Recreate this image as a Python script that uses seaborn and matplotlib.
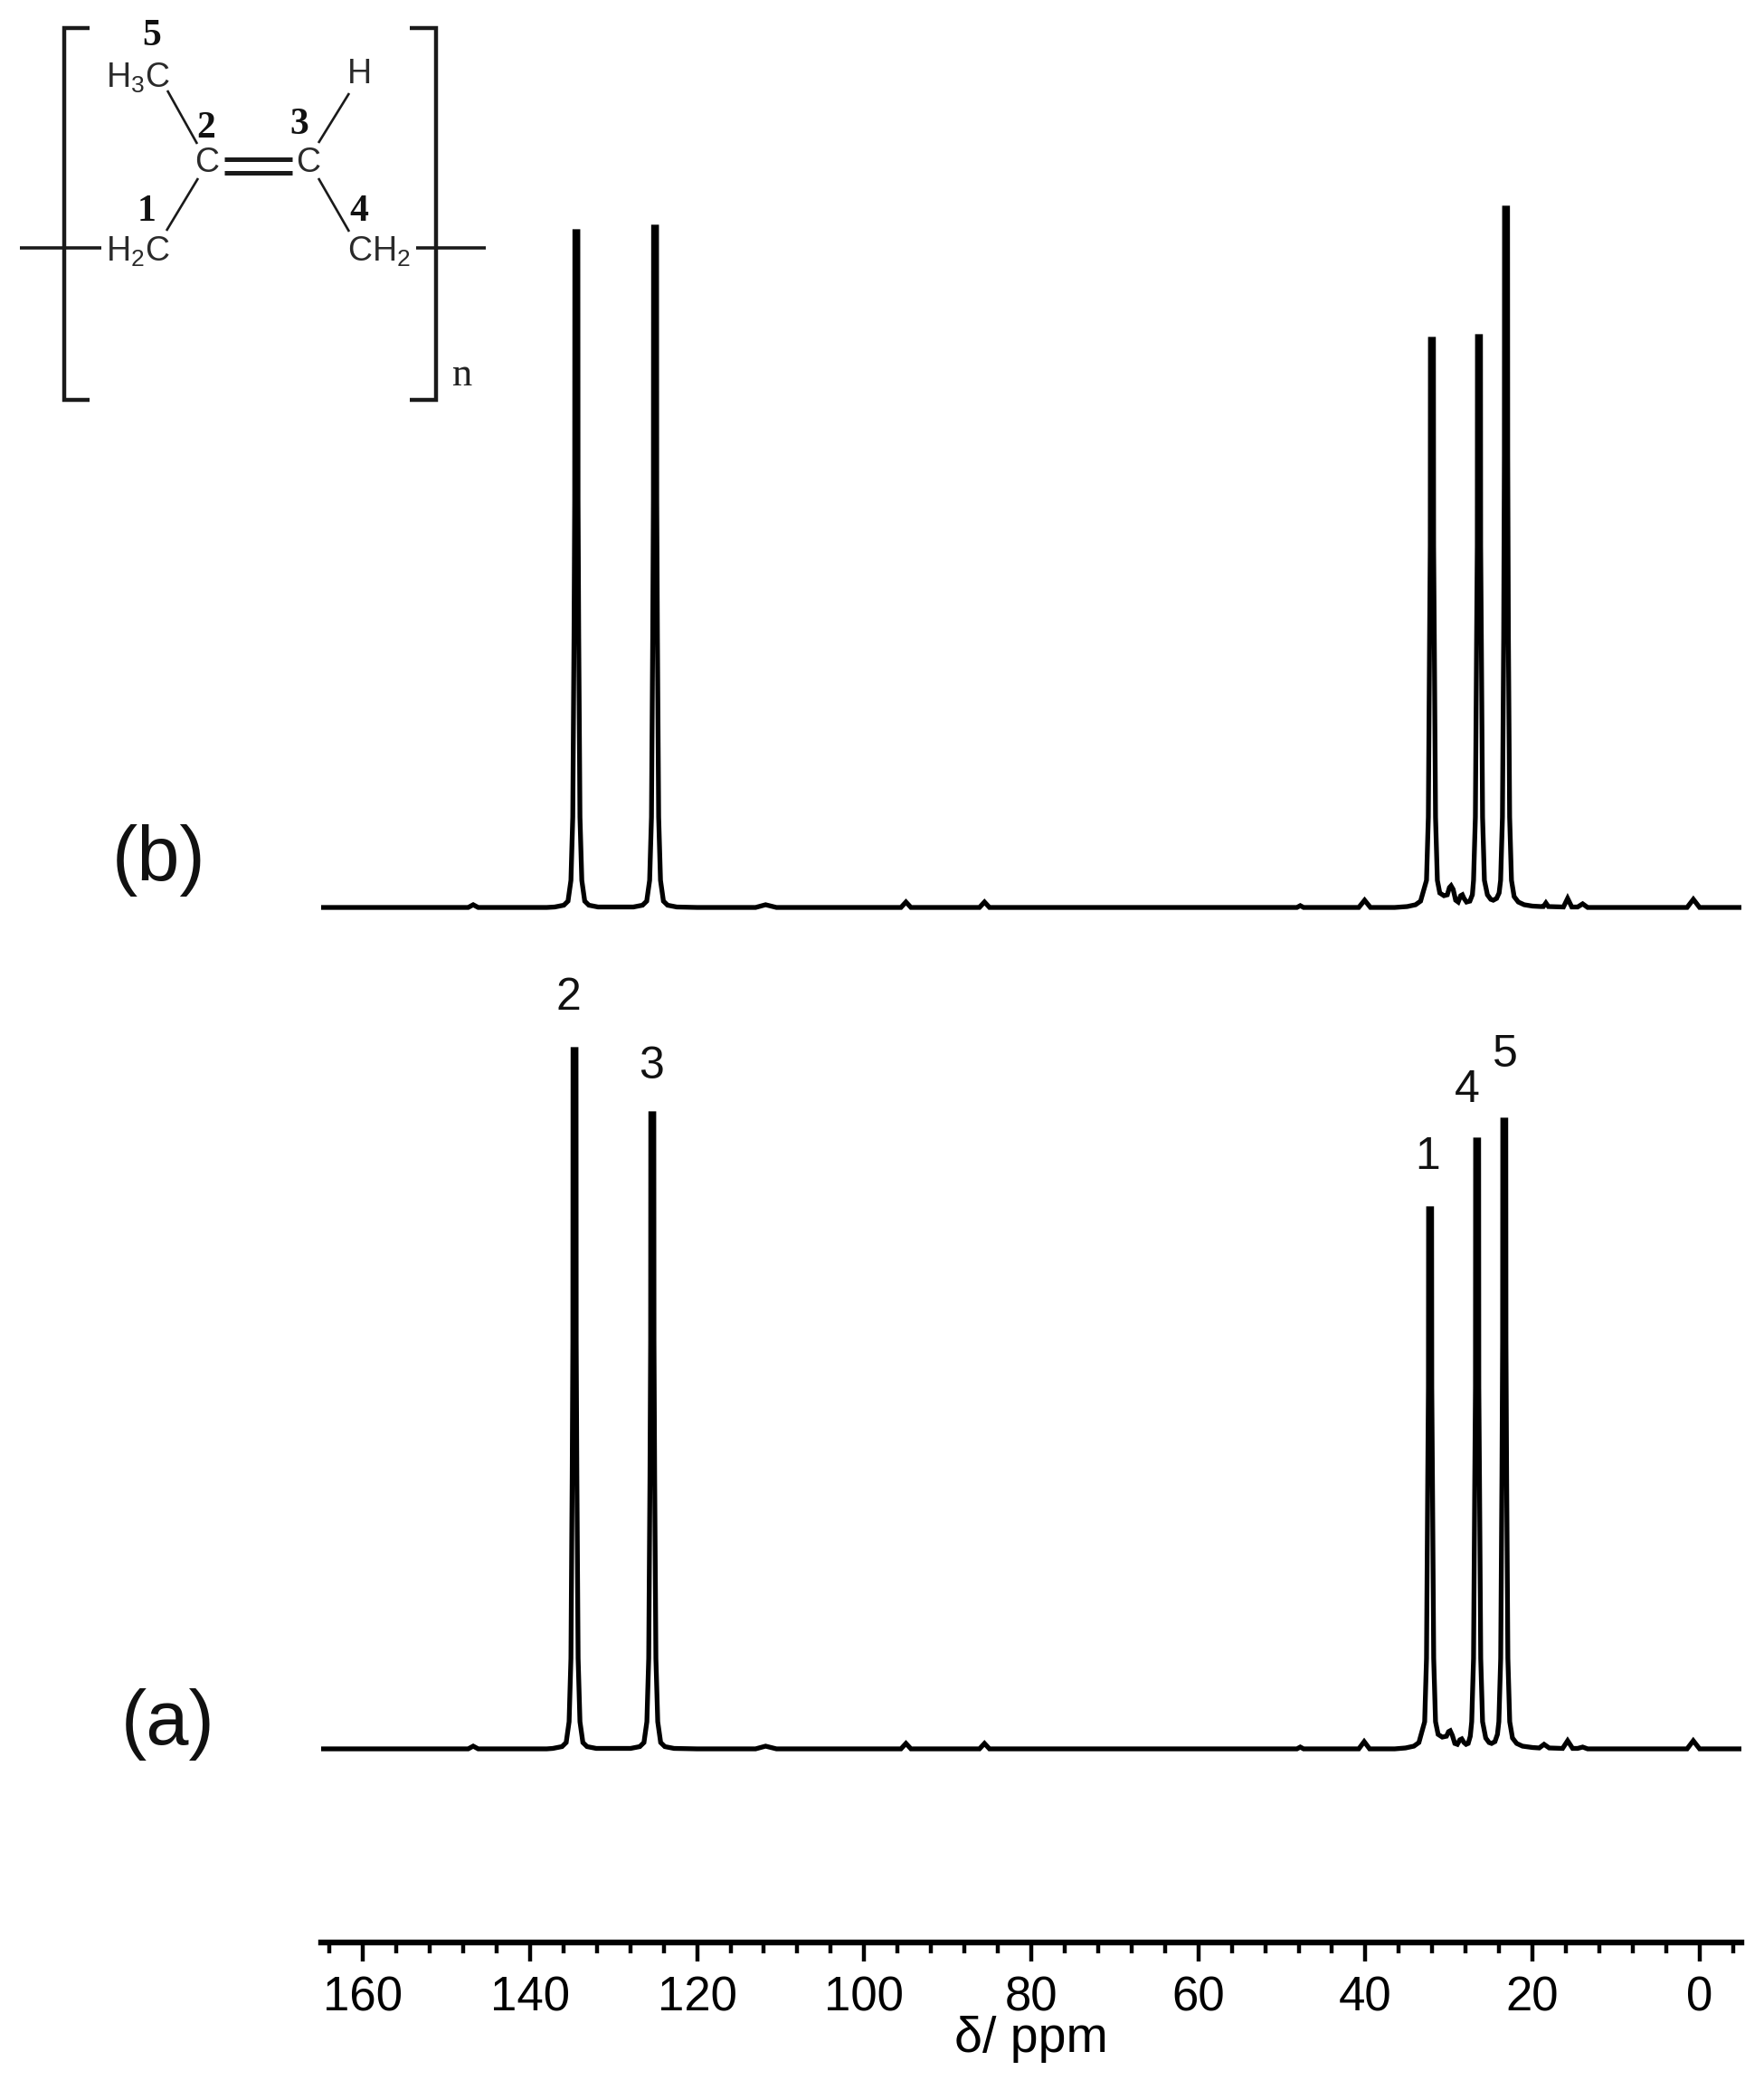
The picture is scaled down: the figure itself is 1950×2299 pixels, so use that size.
# 13C NMR spectra of polyisoprene, (a) and (b)

import matplotlib
matplotlib.use("Agg")
import matplotlib.pyplot as plt
import seaborn as sns
from matplotlib.ticker import MultipleLocator

# intensities are in pixels above the baseline of each trace
b_left_ppm = [165, 147.4, 146.8, 146.2, 138]
b_left_int = [0, 0, 3, 0, 0]
b_c2_ppm = [137.05, 135.95, 135.45, 135.1, 134.88, 134.73, 134.65, 134.63, 134.27, 134.25, 134.17, 134.02, 133.8, 133.45, 132.95, 131.85]
b_c2_int = [0.5, 2.5, 7, 30, 100, 300, 450, 747, 747, 450, 300, 100, 30, 7, 2.5, 0.5]
b_c3_ppm = [127.63, 126.53, 126.03, 125.68, 125.46, 125.31, 125.23, 125.21, 124.85, 124.83, 124.75, 124.6, 124.38, 124.03, 123.53, 122.43]
b_c3_int = [0.5, 2.5, 7, 30, 100, 300, 450, 752, 752, 450, 300, 100, 30, 7, 2.5, 0.5]
b_mid_ppm = [120, 113, 111.8, 110.5, 95.6, 95, 94.4, 86.2, 85.6, 85, 48.2, 47.8, 47.4, 40.8, 40.1, 39.4, 36.5]
b_mid_int = [0, 0, 3, 0, 0, 6, 0, 0, 6, 0, 0, 2, 0, 0, 8, 0, 0]
b_ali_ppm = [35, 34, 33.4, 32.69, 32.47, 32.32, 32.24, 32.22, 31.86, 31.84, 31.76, 31.61, 31.39, 31.1, 30.6, 30.2, 29.95, 29.75,
             29.5, 29.2, 28.9, 28.6, 28.4, 28.2, 27.9, 27.5, 27.2, 27.06, 26.84, 26.69, 26.61, 26.59, 26.23, 26.21, 26.13,
             25.98, 25.76, 25.4, 25, 24.7, 24.3, 24, 23.82, 23.6, 23.45, 23.37, 23.35, 22.99, 22.97, 22.89, 22.74, 22.52,
             22.2, 21.7, 21, 20, 19, 18.7, 18.4, 18.1, 16.3, 15.8, 15.3, 14.6, 14, 13.4, 12]
b_ali_int = [1, 3, 7, 30, 100, 300, 400, 628, 628, 400, 300, 100, 30, 16, 13, 14, 22, 24,
             20, 8, 6, 13, 14, 10, 6, 7, 14, 30, 100, 300, 400, 631, 631, 400, 300,
             100, 30, 14, 9, 8, 10, 16, 30, 100, 300, 500, 773, 773, 500, 300, 100, 30,
             12, 6, 3, 1.5, 1, 1, 5, 1, 0.5, 10, 0.5, 0.5, 4, 0, 0]
b_end_ppm = [1.5, 0.75, 0, -5]
b_end_int = [0, 9, 0, 0]

a_left_ppm = [165, 147.4, 146.8, 146.2, 138]
a_left_int = [0, 0, 3, 0, 0]
a_c2_ppm = [137.27, 136.17, 135.67, 135.32, 135.1, 134.95, 134.87, 134.85, 134.49, 134.47, 134.39, 134.24, 134.02, 133.67, 133.17, 132.07]
a_c2_int = [0.5, 2.5, 7, 30, 100, 300, 450, 773, 773, 450, 300, 100, 30, 7, 2.5, 0.5]
a_c3_ppm = [127.96, 126.86, 126.36, 126.01, 125.79, 125.64, 125.56, 125.54, 125.18, 125.16, 125.08, 124.93, 124.71, 124.36, 123.86, 122.76]
a_c3_int = [0.5, 2.5, 7, 30, 100, 300, 450, 702, 702, 450, 300, 100, 30, 7, 2.5, 0.5]
a_mid_ppm = [120, 113, 111.8, 110.5, 95.6, 95, 94.4, 86.2, 85.6, 85, 48.2, 47.8, 47.4, 40.8, 40.15, 39.5, 36.5]
a_mid_int = [0, 0, 3, 0, 0, 6, 0, 0, 6, 0, 0, 2, 0, 0, 8, 0, 0]
a_ali_ppm = [35.2, 34.2, 33.6, 32.91, 32.69, 32.54, 32.46, 32.44, 32.08, 32.06, 31.98, 31.83, 31.61, 31.3, 30.8, 30.3, 30.05, 29.85,
             29.6, 29.3, 29, 28.7, 28.47, 28.2, 27.95, 27.7, 27.45, 27.28, 27.06, 26.91, 26.83, 26.81, 26.45, 26.43, 26.35,
             26.2, 25.98, 25.6, 25.2, 24.9, 24.5, 24.2, 24.03, 23.81, 23.66, 23.58, 23.56, 23.2, 23.18, 23.1, 22.95, 22.73,
             22.4, 21.9, 21.2, 20, 19.2, 18.62, 18, 16.4, 15.8, 15.2, 14.6, 14, 13.4, 12]
a_ali_int = [1, 3, 7, 30, 100, 300, 400, 597, 597, 400, 300, 100, 30, 16, 13, 14, 19, 20,
             15, 6, 5, 10, 11, 7, 5, 6, 14, 30, 100, 300, 400, 673, 673, 400, 300,
             100, 30, 12, 7, 6, 8, 16, 30, 100, 300, 450, 695, 695, 450, 300, 100, 30,
             12, 6, 3, 1.5, 1, 5, 1, 0.5, 9, 0.5, 0.5, 2, 0, 0]
a_end_ppm = [1.5, 0.76, 0, -5]
a_end_int = [0, 9, 0, 0]

b_ppm = b_left_ppm + b_c2_ppm + b_c3_ppm + b_mid_ppm + b_ali_ppm + b_end_ppm
b_int = b_left_int + b_c2_int + b_c3_int + b_mid_int + b_ali_int + b_end_int
a_ppm = a_left_ppm + a_c2_ppm + a_c3_ppm + a_mid_ppm + a_ali_ppm + a_end_ppm
a_int = a_left_int + a_c2_int + a_c3_int + a_mid_int + a_ali_int + a_end_int

major_ticks = [160, 140, 120, 100, 80, 60, 40, 20, 0]

W, H = 1950, 2299

sns.set_theme(style="white")
plt.rcParams["font.family"] = ["Liberation Sans", "DejaVu Sans"]
plt.rcParams["mathtext.default"] = "regular"


def px_axes(fig, left, top, right, bottom):
    return fig.add_axes([left / W, 1 - bottom / H, (right - left) / W, (bottom - top) / H], facecolor="none")


fig = plt.figure(figsize=(W / 100, H / 100), dpi=100, facecolor="white")

ax_b = px_axes(fig, 355, 100, 1925, 1060)
ax_a = px_axes(fig, 355, 1060, 1925, 2147)

for ax, x, y in [(ax_b, b_ppm, b_int), (ax_a, a_ppm, a_int)]:
    sns.lineplot(x=x, y=y, sort=False, estimator=None, errorbar=None, color="black", linewidth=3.8, ax=ax)
    ax.lines[0].set_solid_joinstyle("miter")
    ax.set_xlim(165, -5)
    ax.set_xlabel("")
    ax.set_ylabel("")
    ax.set_yticks([])
    sns.despine(ax=ax, left=True, top=True, right=True, bottom=ax is ax_b)

ax_b.set_ylim(-57, 903)
ax_b.set_xticks([])
ax_a.set_ylim(-214, 873)

ax_a.spines["bottom"].set_linewidth(4.6)
ax_a.spines["bottom"].set_color("black")
ax_a.set_xticks(major_ticks)
ax_a.xaxis.set_minor_locator(MultipleLocator(4))
ax_a.tick_params(axis="x", which="major", bottom=True, length=15, width=3.2, color="black",
                 labelsize=38, labelcolor="black", pad=11)
ax_a.tick_params(axis="x", which="minor", bottom=True, length=8.6, width=3.2, color="black")

# overlay in pixel coordinates for the labels and the structure drawing
ov = fig.add_axes([0, 0, 1, 1], facecolor="none")
ov.set_xlim(0, W)
ov.set_ylim(H, 0)
ov.axis("off")

ov.text(1140, 2254, "δ/ ppm", fontsize=40, ha="center", va="center", color="black")
ov.text(176, 951, "(b)", fontsize=61, ha="center", va="center", color="#111111")
ov.text(186, 1906, "(a)", fontsize=61, ha="center", va="center", color="#111111")

for label, x, y in [("2", 628, 1103), ("3", 720, 1179), ("1", 1578, 1279), ("4", 1622, 1205), ("5", 1664, 1166)]:
    ov.text(x, y, label, fontsize=36, ha="center", va="center", color="#111111")

# brackets and bonds
struct = "#1a1a1a"
for xs, ys, lw in [
    ([99, 71, 71, 99], [31, 31, 442, 442], 3.2),
    ([453, 482, 482, 453], [31, 31, 442, 442], 3.2),
    ([22, 112], [274, 274], 2.6),
    ([460, 537], [274, 274], 2.6),
    ([185, 218], [100, 159], 1.9),
    ([219, 184], [197, 255], 1.9),
    ([386, 352], [103, 158], 1.9),
    ([352, 386], [197, 256], 1.9),
    ([248, 323], [176, 176], 3.6),
    ([248, 323], [191, 191], 3.6),
]:
    ov.plot(xs, ys, color=struct, linewidth=lw, solid_capstyle="butt", solid_joinstyle="miter")

for label, x, y in [("H$_3$C", 152, 86), ("H$_2$C", 152, 278), ("C", 229, 180), ("C", 341, 180), ("H", 397, 82), ("CH$_2$", 419, 278)]:
    ov.text(x, y, label, fontsize=27, ha="center", va="center", color="#2a2a2a")

for label, x, y in [("5", 168, 40), ("2", 228, 142), ("3", 331, 138), ("1", 162, 234), ("4", 397, 234)]:
    ov.text(x, y, label, fontsize=30, fontweight="bold", family="Liberation Serif", ha="center", va="center", color="#111111")
ov.text(511, 415, "n", fontsize=32, family="Liberation Serif", ha="center", va="center", color="#222222")

fig.savefig("out.png", dpi=100)
